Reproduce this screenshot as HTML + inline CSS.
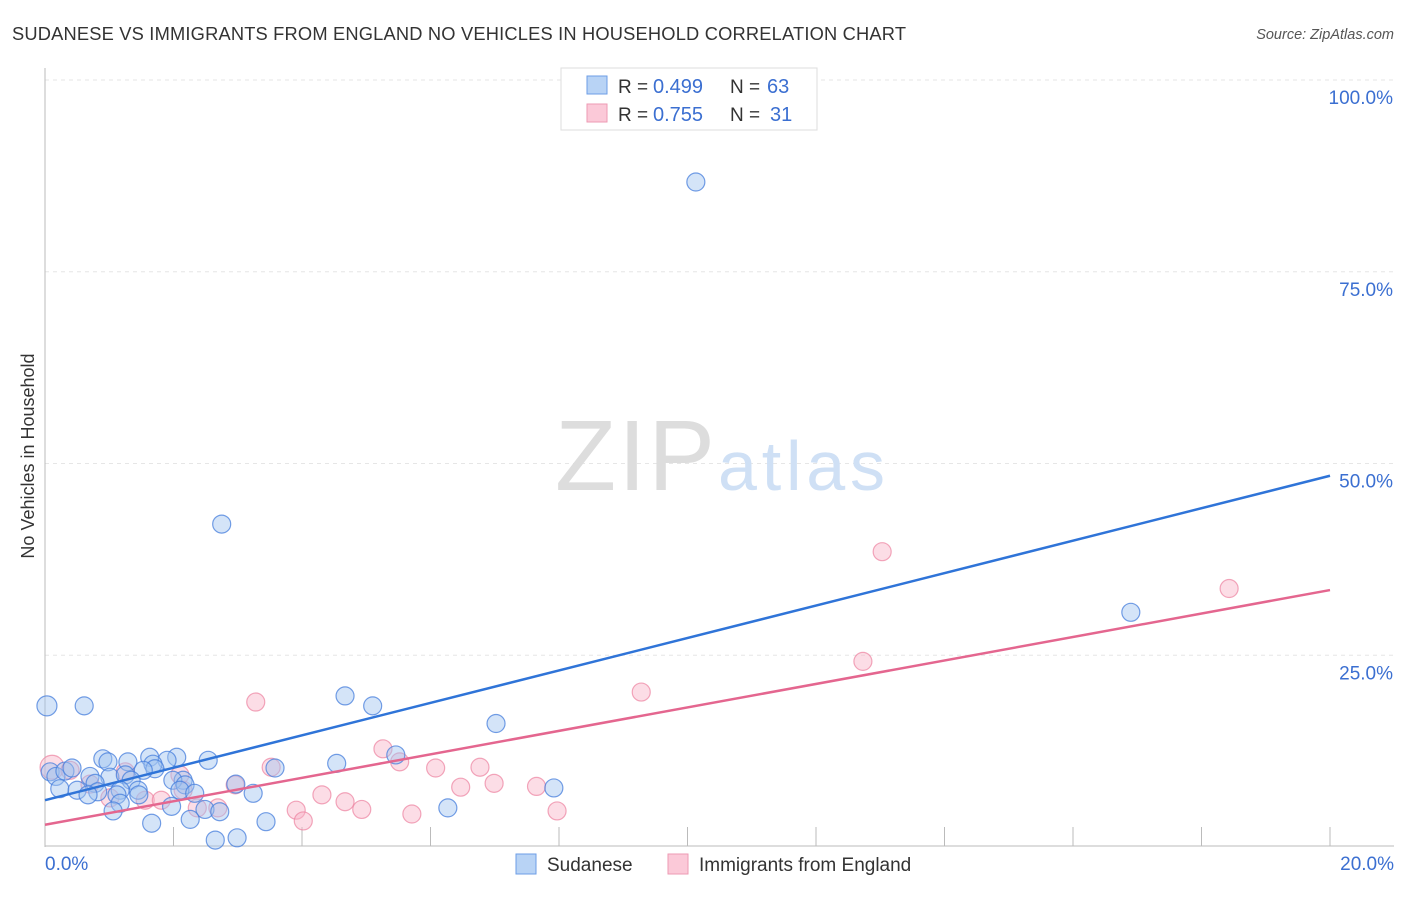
<!DOCTYPE html>
<html><head><meta charset="utf-8"><style>
body{margin:0;background:#fff;font-family:"Liberation Sans",sans-serif}
svg text{font-family:"Liberation Sans",sans-serif}
</style></head><body>
<svg width="1406" height="892">
<text x="12" y="40" font-size="18.3" fill="#333" textLength="894">SUDANESE VS IMMIGRANTS FROM ENGLAND NO VEHICLES IN HOUSEHOLD CORRELATION CHART</text>
<text x="1394" y="39" font-size="14.5" font-style="italic" fill="#555" text-anchor="end">Source: ZipAtlas.com</text>
<g id="grid"></g>
<text x="555" y="490" font-size="100" font-family="Liberation Serif" fill="#ddd" textLength="160">ZIP</text>
<text x="718" y="490" font-size="70" fill="#cfe0f5" textLength="167">atlas</text>
<g id="points"></g>
<g id="lines"></g>
<text transform="translate(34,456) rotate(-90)" font-size="18" fill="#333" text-anchor="middle">No Vehicles in Household</text>
<g>
<rect x="561" y="68" width="256" height="62" fill="#fff" stroke="#ddd"/>
<rect x="587" y="76" width="20" height="18" fill="#b8d3f5" stroke="#6d9ee6"/>
<rect x="587" y="104" width="20" height="18" fill="#fbc9d8" stroke="#ee9ab3"/>
<text x="618" y="93" font-size="19" fill="#333">R =</text>
<text x="653" y="93" font-size="20" fill="#3b6fd1">0.499</text>
<text x="730" y="93" font-size="19" fill="#333">N =</text>
<text x="767" y="93" font-size="20" fill="#3b6fd1">63</text>
<text x="618" y="121" font-size="19" fill="#333">R =</text>
<text x="653" y="121" font-size="20" fill="#3b6fd1">0.755</text>
<text x="730" y="121" font-size="19" fill="#333">N =</text>
<text x="770" y="121" font-size="20" fill="#3b6fd1">31</text>
</g>
<g>
<rect x="516" y="854" width="20" height="20" fill="#b8d3f5" stroke="#6d9ee6"/>
<text x="547" y="871" font-size="19" fill="#333">Sudanese</text>
<rect x="668" y="854" width="20" height="20" fill="#fbc9d8" stroke="#ee9ab3"/>
<text x="699" y="871" font-size="19" fill="#333">Immigrants from England</text>
</g>
</svg>
<script>
const xTicks=[2,4,6,8,10,12,14,16,18,20];
const yTicks=[25,50,75,100];
const blueX=[0.03,0.61,10.13,2.75,16.9,4.67,5.1,7.02,5.46,4.54,3.58,3.24,2.97,2.54,2.05,1.9,1.63,1.68,0.9,0.98,1.29,1.71,1.53,0.08,0.17,0.31,0.42,0.7,1.01,1.25,1.34,2.15,1.99,2.18,0.23,0.5,0.78,0.82,0.67,1.17,1.45,1.46,2.1,2.33,1.12,1.17,1.97,1.06,2.49,2.72,1.66,2.26,3.44,2.65,2.99,6.27,7.92];
const blueY=[18.4,18.4,86.7,42.1,30.6,19.7,18.4,16.1,12.0,10.9,10.3,7.0,8.2,11.3,11.7,11.3,11.7,10.8,11.5,11.1,11.1,10.2,10.0,9.8,9.2,9.9,10.3,9.2,9.1,9.4,8.7,8.7,8.7,8.1,7.6,7.4,8.3,7.2,6.8,7.4,7.4,6.8,7.4,7.0,6.8,5.7,5.3,4.7,4.9,4.6,3.1,3.6,3.3,0.9,1.2,5.1,7.7];
const pinkX=[13.03,18.43,12.73,9.28,3.28,5.26,5.52,6.08,6.77,7.65,6.99,6.47,4.31,4.67,4.93,5.71,3.91,4.02,7.97,3.52,2.96,0.11,0.39,1.25,2.15,1.56,1.81,2.37,2.69,1.01,2.1,0.7];
const pinkY=[38.5,33.7,24.2,20.2,18.9,12.8,11.1,10.3,10.4,7.9,8.3,7.8,6.8,5.9,4.9,4.3,4.8,3.4,4.7,10.4,8.1,10.4,10.0,9.8,7.4,6.1,6.1,5.1,5.1,6.4,9.4,8.2];
const blueLine=[6.1,48.4];
const pinkLine=[2.9,33.5];
const NS='http://www.w3.org/2000/svg';
const X=v=>45+v/20*1285, Y=v=>847-v*7.67;
function mk(t,a,p){const e=document.createElementNS(NS,t);for(const k in a)e.setAttribute(k,a[k]);p.appendChild(e);return e;}
const grid=document.getElementById('grid');
yTicks.forEach(t=>{
 const l=mk('line',{x1:45,x2:1394,y1:Y(t),y2:Y(t),stroke:'#e6e6e6','stroke-dasharray':'4,4'},grid);
 
 
 const tx=mk('text',{x:1393,y:Y(t)+24,'font-size':19,fill:'#3b6fd1','text-anchor':'end'},grid);
 tx.textContent=t.toFixed(1)+'%';
 
 
});
const ax=mk('line',{x1:45,x2:45,y1:68,y2:847,stroke:'#bbb'},grid);


const bx=mk('line',{x1:45,x2:1394,y1:846,y2:846,stroke:'#bbb'},grid);


xTicks.forEach(t=>{
 const k=mk('line',{x1:X(t),x2:X(t),y1:827,y2:846,stroke:'#bbb'},grid);
 
 
});
[[0,'0.0%','start',45],[20,'20.0%','end',1394]].forEach(d=>{
 const tx=mk('text',{x:d[3],y:870,'font-size':19,fill:'#3b6fd1','text-anchor':d[2]},grid);
 tx.textContent=d[1];
 
 
});
const pts=document.getElementById('points');
pinkX.forEach((v,i)=>{
 const c=mk('circle',{cx:X(v),cy:Y(pinkY[i]),r:i==21?12:9,fill:'rgba(248,180,200,0.45)',stroke:'rgba(236,130,160,0.7)','stroke-width':1.2},pts);
 
 
});
blueX.forEach((v,i)=>{
 const c=mk('circle',{cx:X(v),cy:Y(blueY[i]),r:i==0?10:9,fill:'rgba(160,196,240,0.45)',stroke:'rgba(70,125,220,0.75)','stroke-width':1.2},pts);
 
 
});
const ln=document.getElementById('lines');
const b=mk('line',{x1:X(0),y1:Y(blueLine[0]),x2:X(20),y2:Y(blueLine[1]),stroke:'#2f74d8','stroke-width':2.5},ln);


const p=mk('line',{x1:X(0),y1:Y(pinkLine[0]),x2:X(20),y2:Y(pinkLine[1]),stroke:'#e4668f','stroke-width':2.5},ln);


</script>
</body></html>
